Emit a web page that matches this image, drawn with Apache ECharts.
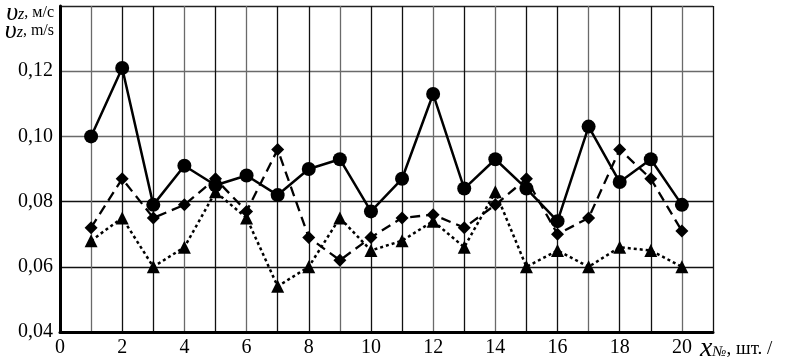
<!DOCTYPE html>
<html><head><meta charset="utf-8">
<script src="https://cdn.jsdelivr.net/npm/echarts@6/dist/echarts.min.js"></script>
<style>html,body{margin:0;padding:0;background:#fff}#c{width:791px;height:363px}</style>
</head><body><div id="c"></div>
<script>
const xValues = [1,2,3,4,5,6,7,8,9,10,11,12,13,14,15,16,17,18,19,20];
const circleSeries = [0.100,0.121,0.079,0.091,0.085,0.088,0.082,0.090,0.093,0.077,0.087,0.113,0.084,0.093,0.084,0.074,0.103,0.086,0.093,0.079];
const diamondSeries = [0.072,0.087,0.075,0.079,0.087,0.077,0.096,0.069,0.062,0.069,0.075,0.076,0.072,0.079,0.087,0.070,0.075,0.096,0.087,0.071];
const triangleSeries = [0.068,0.075,0.060,0.066,0.083,0.075,0.054,0.060,0.075,0.065,0.068,0.074,0.066,0.083,0.060,0.065,0.060,0.066,0.065,0.060];
const xTickLabels = ['0','2','4','6','8','10','12','14','16','18','20'];
const yTickLabels = ['0,04','0,06','0,08','0,10','0,12'];

const pair = a => xValues.map((x,i)=>[x,a[i]]);
const font = '"Liberation Serif","Times New Roman",serif';
const vColors = [];
const darkIdx = [0,2,3,5,7,8,10,11,13,15,16,18,19,21];
for (let i=0;i<=21;i++) vColors.push(darkIdx.includes(i)?'#111':'#6a6a6a');

const chart = echarts.init(document.getElementById('c'));
chart.setOption({
  animation:false,
  grid:{left:60,right:78,top:5,bottom:30},
  xAxis:{type:'value',min:0,max:21,interval:1,
    axisLine:{show:true,lineStyle:{color:'#000',width:3}},
    axisTick:{show:false},
    splitLine:{show:true,lineStyle:{color:vColors,width:1.3}},
    axisLabel:{color:'#000',fontFamily:font,fontSize:20,margin:6,
      formatter:v=>{const s=String(v);return xTickLabels.includes(s)?s:'';}},
    name:'{x|x}{n|№}{t|, шт. /}',nameLocation:'end',nameGap:-13,
    nameTextStyle:{align:'left',verticalAlign:'top',padding:[3,0,0,0],
      rich:{x:{fontFamily:font,fontStyle:'italic',fontSize:28,color:'#000'},
            n:{fontFamily:font,fontStyle:'italic',fontSize:15,color:'#000',padding:[7,0,0,0]},
            t:{fontFamily:font,fontSize:19,color:'#000'}}}
  },
  yAxis:{type:'value',min:0.04,max:0.14,interval:0.02,
    axisLine:{show:true,lineStyle:{color:'#000',width:3}},
    axisTick:{show:false},
    splitLine:{show:true,lineStyle:{color:['#000','#111','#111','#6a6a6a','#6a6a6a','#222'],width:1.3}},
    axisLabel:{color:'#000',fontFamily:font,fontSize:20,margin:7,
      formatter:v=>{const s=v.toFixed(2).replace('.',',');return yTickLabels.includes(s)?s:'';}},
    name:'{v|υ}{z|z}{t|, м/с}\n{v|υ}{z|z}{t|, m/s}',nameLocation:'end',nameGap:2,
    nameTextStyle:{align:'right',verticalAlign:'top',padding:[0,6,0,0],lineHeight:18,
      rich:{v:{fontFamily:font,fontStyle:'italic',fontSize:26,color:'#000',lineHeight:18},
            z:{fontFamily:font,fontStyle:'italic',fontSize:16,color:'#000',lineHeight:18,padding:[4,0,0,0]},
            t:{fontFamily:font,fontSize:16,color:'#000',lineHeight:18}}}
  },
  series:[
    {type:'line',data:pair(triangleSeries),symbol:'triangle',symbolSize:13,
      lineStyle:{color:'#000',width:2.5,type:[3,3]},itemStyle:{color:'#000'}},
    {type:'line',data:pair(diamondSeries),symbol:'diamond',symbolSize:13,
      lineStyle:{color:'#000',width:2.3,type:[10,6]},itemStyle:{color:'#000'}},
    {type:'line',data:pair(circleSeries),symbol:'circle',symbolSize:14,
      lineStyle:{color:'#000',width:2.5},itemStyle:{color:'#000'}}
  ]
});
</script></body></html>
